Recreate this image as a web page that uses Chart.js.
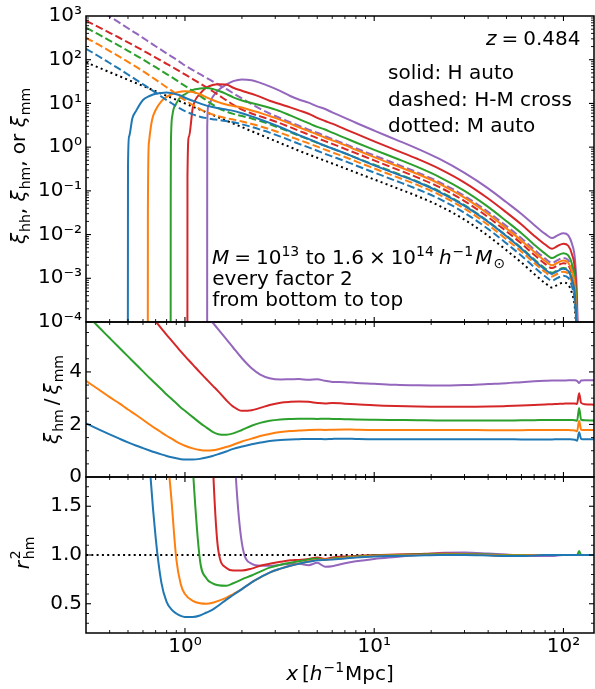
<!DOCTYPE html>
<html>
<head>
<meta charset="utf-8">
<script src="https://cdn.jsdelivr.net/npm/chart.js@4.4.1/dist/chart.umd.min.js"></script>
<style>
  html, body { margin: 0; padding: 0; background: #ffffff; }
  #wrap { position: relative; width: 595px; height: 689px; overflow: hidden; background: #ffffff; }
  #wrap canvas { position: absolute; left: 0; top: 0; }
</style>
</head>
<body>
<div id="wrap">
  <canvas id="cTop" width="595" height="689"></canvas>
  <canvas id="cMid" width="595" height="689"></canvas>
  <canvas id="cBot" width="595" height="689"></canvas>
</div>
<script>
// ---------------- data ----------------
const xGrid = [
  0.3, 0.35, 0.4, 0.45, 0.5, 0.55, 0.6, 0.65,
  0.7, 0.75, 0.8, 0.85, 0.9, 0.95, 1.0, 1.1,
  1.2, 1.3, 1.4, 1.5, 1.65, 1.8, 2.0, 2.25,
  2.5, 2.8, 3.2, 3.6, 4, 4.5, 5, 5.5,
  6, 7, 8, 10, 13, 17, 22, 30,
  40, 50, 60, 70, 80, 87, 93, 100,
  106, 111, 115, 118, 121, 124, 130, 145
];

// matter auto-correlation (dotted)
const xiMM = [
  87.1, 66.1, 51.9, 42.1, 34.8, 29.3, 25.1, 21.7,
  19.0, 16.8, 14.9, 13.4, 12.1, 11.0, 10.0, 8.43,
  7.21, 6.24, 5.46, 4.82, 4.06, 3.48, 2.87, 2.32,
  1.92, 1.57, 1.23, 1.00, 0.826, 0.681, 0.571, 0.489,
  0.423, 0.328, 0.263, 0.182, 0.118, 0.0752, 0.0459, 0.0219,
  0.00933, 0.00437, 0.00229, 0.00126, 0.000776, 0.000617, 0.000708, 0.000794,
  0.000708, 0.000447, 0.000200, 0.0000251, 0.000001, null, null, null
];

// halo-matter cross (dashed), mass bins 1..5
const xiHM1 = [
  178, 120, 84.1, 61.4, 45.9, 35.2, 27.5, 21.9,
  17.7, 14.4, 11.9, 10.1, 8.59, 7.46, 6.65, 5.61,
  4.98, 4.61, 4.37, 4.20, 3.94, 3.72, 3.33, 2.90,
  2.52, 2.15, 1.74, 1.43, 1.19, 0.986, 0.828, 0.703,
  0.612, 0.479, 0.381, 0.262, 0.170, 0.108, 0.0661, 0.0315,
  0.0134, 0.00628, 0.00327, 0.00180, 0.00111, 0.000881, 0.00102, 0.00114,
  0.00102, 0.000638, 0.000283, 0.0000347, 0.000001, null, null, null
];
const xiHM2 = [
  318, 220, 158, 118, 89.3, 69.5, 54.6, 43.4,
  35.0, 28.5, 23.4, 19.6, 16.3, 13.8, 11.9, 9.18,
  7.43, 6.30, 5.57, 5.11, 4.63, 4.28, 3.87, 3.39,
  3.00, 2.57, 2.11, 1.75, 1.46, 1.22, 1.03, 0.875,
  0.760, 0.594, 0.473, 0.326, 0.211, 0.135, 0.0822, 0.0392,
  0.0166, 0.00776, 0.00407, 0.00225, 0.00139, 0.00110, 0.00127, 0.00142,
  0.00127, 0.000794, 0.000353, 0.0000437, 0.000001, null, null, null
];
const xiHM3 = [
  540, 378, 274, 207, 160, 126, 101, 81.7,
  67.5, 56.1, 46.9, 39.9, 34.0, 29.0, 25.2, 19.2,
  14.9, 11.7, 9.40, 7.85, 6.55, 5.77, 5.14, 4.53,
  3.96, 3.35, 2.70, 2.21, 1.83, 1.51, 1.26, 1.08,
  0.933, 0.721, 0.575, 0.396, 0.256, 0.162, 0.0986, 0.0470,
  0.0200, 0.00938, 0.00494, 0.00272, 0.00168, 0.00134, 0.00153, 0.00172,
  0.00153, 0.000968, 0.000431, 0.0000537, 0.000001, null, null, null
];
const xiHM4 = [
  783, 558, 413, 318, 249, 200, 163, 134,
  112, 95.1, 80.7, 69.7, 60.3, 52.4, 46.0, 36.1,
  28.7, 23.2, 19.0, 15.7, 11.9, 9.31, 7.23, 5.90,
  5.06, 4.30, 3.49, 2.86, 2.37, 1.95, 1.61, 1.37,
  1.19, 0.916, 0.728, 0.497, 0.318, 0.201, 0.123, 0.0585,
  0.0250, 0.0118, 0.00624, 0.00345, 0.00214, 0.00171, 0.00197, 0.00222,
  0.00198, 0.00125, 0.000558, 0.0000698, 0.000001, null, null, null
];
const xiHM5 = [
  2130, 1410, 975, 706, 525, 405, 316, 251,
  203, 168, 139, 118, 101, 86.1, 74.1, 58.1,
  46.6, 38.5, 32.1, 27.1, 21.4, 17.1, 13.0, 9.62,
  7.50, 5.89, 4.57, 3.72, 3.08, 2.52, 2.13, 1.79,
  1.53, 1.19, 0.942, 0.646, 0.414, 0.262, 0.160, 0.0766,
  0.0330, 0.0156, 0.00828, 0.00458, 0.00284, 0.00226, 0.00260, 0.00292,
  0.00261, 0.00164, 0.000735, 0.0000918, 0.000001, null, null, null
];

// halo auto-correlation (solid): own x samples (vertical drop where xi_hh < 0)
const hhX1 = [0.499, 0.5, 0.507, 0.527, 0.55, 0.6, 0.65, 0.7, 0.75, 0.8, 0.85, 0.9, 0.95, 1.0, 1.1, 1.2, 1.3, 1.4, 1.5, 1.65, 1.8, 2.0, 2.25, 2.5, 2.8, 3.2, 3.6, 4, 4.5, 5, 5.5, 6, 7, 8, 10, 13, 17, 22, 30, 40, 50, 60, 70, 80, 87, 93, 100, 106, 111, 115, 118, 121];
const hhY1 = [0.000001, 0.339, 1.76, 4.54, 6.61, 12.0, 14.8, 16.6, 17.4, 17.8, 17.2, 16.2, 15.1, 13.5, 11.5, 10.0, 8.91, 8.32, 7.76, 7.24, 6.75, 5.94, 5.05, 4.30, 3.58, 2.85, 2.30, 1.88, 1.54, 1.27, 1.07, 0.931, 0.724, 0.568, 0.384, 0.247, 0.157, 0.0953, 0.0454, 0.0195, 0.00914, 0.00473, 0.00258, 0.00159, 0.00126, 0.00147, 0.00165, 0.00147, 0.000914, 0.000403, 0.0000513, 0.000001];
const hhX2 = [0.636, 0.637, 0.645, 0.67, 0.7, 0.75, 0.8, 0.85, 0.9, 0.95, 1.0, 1.1, 1.2, 1.3, 1.4, 1.5, 1.65, 1.8, 2.0, 2.25, 2.5, 2.8, 3.2, 3.6, 4, 4.5, 5, 5.5, 6, 7, 8, 10, 13, 17, 22, 30, 40, 50, 60, 70, 80, 87, 93, 100, 106, 111, 115, 118, 121];
const hhY2 = [0.000001, 0.0331, 1.26, 4.17, 7.08, 11.2, 14.1, 16.2, 17.8, 18.6, 19.1, 18.2, 16.2, 13.8, 12.0, 10.7, 9.44, 8.77, 8.05, 6.89, 6.08, 5.14, 4.20, 3.44, 2.84, 2.33, 1.95, 1.64, 1.43, 1.11, 0.871, 0.589, 0.380, 0.241, 0.147, 0.0701, 0.0296, 0.0138, 0.00726, 0.00404, 0.00249, 0.00198, 0.00227, 0.00255, 0.00227, 0.00142, 0.000625, 0.0000794, 0.000001];
const hhX3 = [0.84, 0.841, 0.845, 0.86, 0.9, 0.95, 1.0, 1.1, 1.2, 1.3, 1.4, 1.5, 1.65, 1.8, 2.0, 2.25, 2.5, 2.8, 3.2, 3.6, 4, 4.5, 5, 5.5, 6, 7, 8, 10, 13, 17, 22, 30, 40, 50, 60, 70, 80, 87, 93, 100, 106, 111, 115, 118, 121];
const hhY3 = [0.000001, 0.055, 2.0, 5.62, 10.0, 14.1, 16.2, 20.4, 21.9, 22.4, 21.4, 19.5, 16.6, 13.8, 11.7, 10.2, 9.12, 7.94, 6.58, 5.31, 4.36, 3.53, 2.91, 2.54, 2.14, 1.63, 1.28, 0.869, 0.556, 0.349, 0.210, 0.100, 0.0430, 0.0202, 0.0107, 0.00587, 0.00366, 0.00290, 0.00333, 0.00374, 0.00333, 0.00210, 0.000931, 0.000117, 0.000001];
const hhX4 = [1.03, 1.031, 1.05, 1.1, 1.2, 1.3, 1.4, 1.5, 1.65, 1.8, 2.0, 2.25, 2.5, 2.8, 3.2, 3.6, 4, 4.5, 5, 5.5, 6, 7, 8, 10, 13, 17, 22, 30, 40, 50, 60, 70, 80, 87, 93, 100, 106, 111, 115, 118, 121];
const hhY4 = [0.000001, 0.219, 1.76, 7.94, 16.6, 22.9, 26.3, 27.5, 27.2, 22.9, 19.5, 16.6, 14.1, 11.5, 9.55, 8.13, 6.92, 5.81, 4.67, 3.97, 3.44, 2.59, 2.04, 1.36, 0.857, 0.535, 0.323, 0.155, 0.0670, 0.0320, 0.0170, 0.00944, 0.00592, 0.00473, 0.00547, 0.00618, 0.00555, 0.00350, 0.00156, 0.000195, 0.000001];
const hhX5 = [1.31, 1.311, 1.33, 1.4, 1.5, 1.65, 1.8, 2.0, 2.25, 2.5, 2.8, 3.2, 3.6, 4, 4.5, 5, 5.5, 6, 7, 8, 10, 13, 17, 22, 30, 40, 50, 60, 70, 80, 87, 93, 100, 106, 111, 115, 118, 121];
const hhY5 = [0.000001, 2.82, 8.91, 14.0, 20.0, 26.9, 32.4, 35.5, 33.9, 29.5, 24.5, 19.1, 14.8, 12.3, 10.4, 8.59, 7.45, 6.25, 4.68, 3.61, 2.39, 1.49, 0.916, 0.544, 0.258, 0.114, 0.0547, 0.0295, 0.0166, 0.0104, 0.00834, 0.00957, 0.0107, 0.00959, 0.00605, 0.00270, 0.000339, 0.000001];

// xi_hm / xi_mm (middle panel)
const ratio1 = [
  2.04, 1.81, 1.62, 1.46, 1.32, 1.20, 1.10, 1.01,
  0.93, 0.86, 0.80, 0.75, 0.71, 0.68, 0.665, 0.665,
  0.69, 0.74, 0.80, 0.87, 0.97, 1.07, 1.16, 1.25,
  1.31, 1.37, 1.41, 1.43, 1.44, 1.45, 1.45, 1.44,
  1.45, 1.46, 1.45, 1.44, 1.44, 1.44, 1.44, 1.44,
  1.44, 1.44, 1.43, 1.43, 1.43, 1.43, 1.44, 1.44,
  1.44, 1.43, 1.42, 1.38, 1.70, 1.45, 1.44, 1.44
];
const ratio2 = [
  3.66, 3.33, 3.04, 2.80, 2.57, 2.37, 2.18, 2.00,
  1.84, 1.70, 1.57, 1.46, 1.35, 1.26, 1.19, 1.09,
  1.03, 1.01, 1.02, 1.06, 1.14, 1.23, 1.35, 1.46,
  1.56, 1.64, 1.71, 1.75, 1.77, 1.79, 1.80, 1.79,
  1.80, 1.81, 1.80, 1.79, 1.79, 1.79, 1.79, 1.79,
  1.78, 1.78, 1.78, 1.79, 1.79, 1.79, 1.79, 1.79,
  1.79, 1.78, 1.77, 1.74, 2.14, 1.80, 1.79, 1.79
];
const ratio3 = [
  6.20, 5.71, 5.29, 4.92, 4.59, 4.29, 4.02, 3.77,
  3.55, 3.34, 3.14, 2.97, 2.81, 2.65, 2.52, 2.28,
  2.06, 1.88, 1.72, 1.63, 1.61, 1.66, 1.79, 1.95,
  2.06, 2.14, 2.19, 2.21, 2.22, 2.22, 2.21, 2.22,
  2.21, 2.20, 2.19, 2.18, 2.17, 2.16, 2.15, 2.15,
  2.15, 2.15, 2.16, 2.16, 2.17, 2.17, 2.17, 2.17,
  2.17, 2.17, 2.16, 2.14, 2.63, 2.18, 2.16, 2.15
];
const ratio4 = [
  9.0, 8.45, 7.97, 7.55, 7.17, 6.82, 6.50, 6.20,
  5.92, 5.66, 5.41, 5.19, 4.98, 4.78, 4.60, 4.28,
  3.98, 3.72, 3.48, 3.26, 2.93, 2.68, 2.52, 2.54,
  2.63, 2.74, 2.83, 2.86, 2.87, 2.86, 2.82, 2.80,
  2.82, 2.79, 2.77, 2.73, 2.70, 2.68, 2.67, 2.67,
  2.68, 2.70, 2.72, 2.74, 2.76, 2.77, 2.78, 2.79,
  2.80, 2.80, 2.80, 2.78, 3.19, 2.82, 2.77, 2.75
];
const ratio5 = [
  24.5, 21.4, 18.8, 16.8, 15.1, 13.8, 12.6, 11.6,
  10.7, 10.0, 9.33, 8.81, 8.32, 7.85, 7.41, 6.88,
  6.45, 6.16, 5.88, 5.62, 5.26, 4.92, 4.52, 4.14,
  3.90, 3.76, 3.71, 3.72, 3.73, 3.70, 3.72, 3.66,
  3.62, 3.61, 3.58, 3.55, 3.51, 3.49, 3.48, 3.50,
  3.54, 3.57, 3.61, 3.64, 3.66, 3.67, 3.67, 3.67,
  3.68, 3.68, 3.68, 3.66, 3.58, 3.67, 3.68, 3.68
];

// r^2_hm (bottom panel)
const r2_1 = [
  null, null, null, null, null, null, 3.2, 1.95,
  1.18, 0.72, 0.52, 0.44, 0.40, 0.375, 0.365, 0.365,
  0.38, 0.41, 0.44, 0.48, 0.54, 0.59, 0.65, 0.72,
  0.77, 0.82, 0.86, 0.89, 0.91, 0.93, 0.945, 0.95,
  0.955, 0.965, 0.975, 0.985, 0.99, 0.995, 1.0, 1.0,
  0.995, 0.99, 0.99, 0.995, 1.0, 1.0, 1.0, 1.0,
  1.0, 1.0, 1.0, 1.0, 1.0, 1.0, 1.0, 1.0
];
const r2_2 = [
  null, null, null, null, null, null, null, null,
  null, 3.5, 2.2, 1.55, 0.96, 0.70, 0.60, 0.53,
  0.505, 0.50, 0.51, 0.53, 0.56, 0.60, 0.65, 0.72,
  0.77, 0.82, 0.86, 0.89, 0.91, 0.935, 0.95, 0.955,
  0.96, 0.97, 0.98, 0.99, 0.995, 1.0, 1.005, 1.005,
  1.0, 0.995, 0.995, 1.0, 1.0, 1.0, 1.0, 1.0,
  1.0, 1.0, 1.0, 1.0, 1.0, 1.0, 1.0, 1.0
];
const r2_3 = [
  null, null, null, null, null, null, null, null,
  null, null, null, null, null, null, 3.5, 1.9,
  0.95, 0.76, 0.71, 0.69, 0.685, 0.71, 0.75, 0.79,
  0.83, 0.87, 0.90, 0.92, 0.935, 0.955, 0.965, 0.95,
  0.965, 0.975, 0.985, 0.995, 1.0, 1.005, 1.01, 1.01,
  1.005, 1.0, 1.0, 1.0, 1.0, 1.0, 1.0, 1.0,
  1.0, 1.0, 1.0, 1.0, 1.04, 1.0, 1.0, 1.0
];
const r2_4 = [
  null, null, null, null, null, null, null, null,
  null, null, null, null, null, null, null, null,
  null, 4.0, 2.0, 1.05, 0.87, 0.84, 0.84, 0.86,
  0.89, 0.91, 0.93, 0.945, 0.95, 0.96, 0.975, 0.96,
  0.975, 0.985, 0.99, 1.0, 1.005, 1.01, 1.015, 1.01,
  1.0, 0.995, 0.995, 1.0, 1.0, 1.0, 1.0, 1.0,
  1.0, 1.0, 1.0, 1.0, 1.0, 1.0, 1.0, 1.0
];
const r2_5 = [
  null, null, null, null, null, null, null, null,
  null, null, null, null, null, null, null, null,
  null, null, null, null, 4.5, 2.3, 1.12, 0.91,
  0.89, 0.89, 0.90, 0.91, 0.91, 0.895, 0.92, 0.88,
  0.885, 0.915, 0.935, 0.96, 0.98, 1.0, 1.02, 1.025,
  1.015, 1.005, 0.995, 0.99, 0.99, 0.99, 0.995, 1.0,
  1.0, 1.0, 1.0, 1.0, 1.0, 1.0, 1.0, 1.0
];
const refX = [0.3, 145];
const refY = [1, 1];

// ticks / labels
const xTickVals = [1, 10, 100];
const xTickLabels = ['10\u2070', '10\u00b9', '10\u00b2'];
const xMinorTicks = [0.3, 0.4, 0.5, 0.6, 0.7, 0.8, 0.9, 2, 3, 4, 5, 6, 7, 8, 9, 20, 30, 40, 50, 60, 70, 80, 90];
const yTopTickVals = [1e-4, 1e-3, 1e-2, 1e-1, 1, 10, 100, 1000];
const yTopTickLabels = ['10\u207b\u2074', '10\u207b\u00b3', '10\u207b\u00b2', '10\u207b\u00b9', '10\u2070', '10\u00b9', '10\u00b2', '10\u00b3'];
const yMidTickVals = [0, 2, 4];
const yMidTickLabels = ['0', '2', '4'];
const yMidMinor = [0.5, 1, 1.5, 2.5, 3, 3.5, 4.5, 5, 5.5];
const yBotTickVals = [0.5, 1.0, 1.5];
const yBotTickLabels = ['0.5', '1.0', '1.5'];
const yBotMinor = [0.3, 0.4, 0.6, 0.7, 0.8, 0.9, 1.1, 1.2, 1.3, 1.4, 1.6, 1.7];
const yTopMinor = [];
for (let e = -4; e < 3; e++) for (let m = 2; m <= 9; m++) yTopMinor.push(m * Math.pow(10, e));

const COLORS = ['#1f77b4', '#ff7f0e', '#2ca02c', '#d62728', '#9467bd'];

// ---------------- helpers ----------------
const FAM = '"DejaVu Sans"';
const F = '20px ' + FAM, FI = 'italic 20px ' + FAM, FS = '14px ' + FAM;
Chart.defaults.font.family = FAM + ', sans-serif';
Chart.defaults.color = '#000';

const pts = (xs, ys) => xs.map((x, i) => ({ x: x, y: ys[i] }));

function drawRuns(ctx, runs, x, y, align) {
  let total = 0;
  runs.forEach(r => { ctx.font = r.f; r.w = ctx.measureText(r.t).width; total += (r.g || 0) + r.w; });
  let cx = align === 'center' ? x - total / 2 : (align === 'right' ? x - total : x);
  ctx.textAlign = 'left'; ctx.textBaseline = 'alphabetic'; ctx.fillStyle = '#000';
  runs.forEach(r => { cx += (r.g || 0); ctx.font = r.f; ctx.fillText(r.t, cx, y + (r.dy || 0)); cx += r.w; });
}
function drawRotated(ctx, runs, bx, cy) {
  ctx.save(); ctx.translate(bx, cy); ctx.rotate(-Math.PI / 2);
  drawRuns(ctx, runs, 0, 0, 'center');
  ctx.restore();
}

function deco(name, yMajor, yMinor, textFn) {
  return {
    id: 'deco' + name,
    afterDatasetsDraw(chart) {
      const ctx = chart.ctx, a = chart.chartArea, xs = chart.scales.x, ys = chart.scales.y;
      ctx.save();
      ctx.strokeStyle = '#000';
      const seg = (x1, y1, x2, y2) => { ctx.beginPath(); ctx.moveTo(x1, y1); ctx.lineTo(x2, y2); ctx.stroke(); };
      const doX = (vals, len, w) => {
        ctx.lineWidth = w;
        vals.forEach(v => { const p = xs.getPixelForValue(v); if (p < a.left + 1 || p > a.right - 1) return; seg(p, a.bottom, p, a.bottom - len); seg(p, a.top, p, a.top + len); });
      };
      const doY = (vals, len, w) => {
        ctx.lineWidth = w;
        vals.forEach(v => { const p = ys.getPixelForValue(v); if (p < a.top + 1 || p > a.bottom - 1) return; seg(a.left, p, a.left + len, p); seg(a.right, p, a.right - len, p); });
      };
      doX(xMinorTicks, 3, 0.9); doX(xTickVals, 5, 1.1);
      doY(yMinor, 3, 0.9); doY(yMajor, 5, 1.1);
      ctx.lineWidth = 1.5;
      ctx.strokeRect(a.left, a.top, a.right - a.left, a.bottom - a.top);
      ctx.restore();
    },
    afterDraw(chart) { if (textFn) textFn(chart.ctx); }
  };
}

function yAxis(type, min, max, vals, labels) {
  return {
    type: type, min: min, max: max, position: 'left',
    grid: { display: false, drawTicks: false }, border: { display: false },
    afterFit: s => { s.width = 86; },
    afterBuildTicks: s => { s.ticks = vals.map(v => ({ value: v })); },
    ticks: { autoSkip: false, padding: 4, font: { size: 20 }, color: '#000', callback: (v, i) => labels[i] }
  };
}

function options(pad, yScale, showX) {
  return {
    responsive: false, animation: false, devicePixelRatio: 1, events: [],
    layout: { padding: pad, autoPadding: false },
    plugins: { legend: { display: false }, tooltip: { enabled: false } },
    elements: {
      point: { radius: 0, hoverRadius: 0 },
      line: { borderWidth: 2, cubicInterpolationMode: 'monotone', borderJoinStyle: 'round', fill: false }
    },
    scales: {
      x: {
        type: 'logarithmic', min: 0.3, max: 145, display: showX,
        grid: { display: false, drawTicks: false }, border: { display: false },
        afterFit: s => { s.height = showX ? 56 : 0; },
        afterBuildTicks: s => { s.ticks = xTickVals.map(v => ({ value: v })); },
        ticks: { autoSkip: false, maxRotation: 0, minRotation: 0, padding: 2, font: { size: 20 }, color: '#000',
                 callback: (v, i) => xTickLabels[i] }
      },
      y: yScale
    }
  };
}

const line = (data, color, dash) => ({ data: data, borderColor: color, backgroundColor: color, borderWidth: 2, borderDash: dash || [], spanGaps: true, pointRadius: 0 });
const DASH = [7.7, 3.3], DOT = [2, 3.3];

// ---------------- top panel ----------------
const hhX = [hhX1, hhX2, hhX3, hhX4, hhX5], hhY = [hhY1, hhY2, hhY3, hhY4, hhY5];
const hm = [xiHM1, xiHM2, xiHM3, xiHM4, xiHM5];
const topSets = [];
for (let k = 0; k < 5; k++) {
  topSets.push(line(pts(hhX[k], hhY[k]), COLORS[k]));
  topSets.push(line(pts(xGrid, hm[k]), COLORS[k], DASH));
}
topSets.push(line(pts(xGrid, xiMM), '#000', DOT));

new Chart(document.getElementById('cTop'), {
  type: 'line',
  data: { datasets: topSets },
  options: options({ left: 0, right: 1, top: 12, bottom: 367 },
    yAxis('logarithmic', 1e-4, 1e3, yTopTickVals, yTopTickLabels), false),
  plugins: [deco('Top', yTopTickVals, yTopMinor, ctx => {
    drawRuns(ctx, [{ t: 'z', f: FI }, { t: '=', f: F, g: 5 }, { t: '0.484', f: F, g: 5 }], 580.5, 45, 'right');
    drawRuns(ctx, [{ t: 'solid: H auto', f: F }], 388, 79, 'left');
    drawRuns(ctx, [{ t: 'dashed: H-M cross', f: F }], 388, 105.7, 'left');
    drawRuns(ctx, [{ t: 'dotted: M auto', f: F }], 388, 132.3, 'left');
    drawRuns(ctx, [
      { t: 'M', f: FI }, { t: '=', f: F, g: 5 }, { t: '10', f: F, g: 5 }, { t: '13', f: FS, dy: -8 },
      { t: ' to ', f: F }, { t: '1.6', f: F }, { t: '\u00d7', f: F, g: 5 }, { t: '10', f: F, g: 5 },
      { t: '14', f: FS, dy: -8 }, { t: 'h', f: FI, g: 5 }, { t: '\u22121', f: FS, dy: -8, g: 1 },
      { t: 'M', f: FI, g: 2 }, { t: '\u2299', f: FS, dy: 4, g: 1 }
    ], 212, 264.3, 'left');
    drawRuns(ctx, [{ t: 'every factor 2', f: F }], 212.3, 285.3, 'left');
    drawRuns(ctx, [{ t: 'from bottom to top', f: F }], 212.3, 306.3, 'left');
    drawRotated(ctx, [
      { t: '\u03be', f: FI }, { t: 'hh', f: FS, dy: 5, g: 1 }, { t: ', ', f: F },
      { t: '\u03be', f: FI }, { t: 'hm', f: FS, dy: 5, g: 1 }, { t: ', or ', f: F },
      { t: '\u03be', f: FI }, { t: 'mm', f: FS, dy: 5, g: 1 }
    ], 25, 166);
  })]
});

// ---------------- middle panel ----------------
const ratios = [ratio1, ratio2, ratio3, ratio4, ratio5];
new Chart(document.getElementById('cMid'), {
  type: 'line',
  data: { datasets: ratios.map((r, k) => line(pts(xGrid, r), COLORS[k])) },
  options: options({ left: 0, right: 1, top: 322, bottom: 212 },
    yAxis('linear', 0, 5.9, yMidTickVals, yMidTickLabels), false),
  plugins: [deco('Mid', yMidTickVals, yMidMinor, ctx => {
    drawRotated(ctx, [
      { t: '\u03be', f: FI }, { t: 'hm', f: FS, dy: 5, g: 1 }, { t: '/', f: F, g: 4 },
      { t: '\u03be', f: FI, g: 4 }, { t: 'mm', f: FS, dy: 5, g: 1 }
    ], 58, 399.5);
  })]
});

// ---------------- bottom panel ----------------
const r2s = [r2_1, r2_2, r2_3, r2_4, r2_5];
const botSets = r2s.map((r, k) => line(pts(xGrid, r), COLORS[k]));
botSets.push(line(pts(refX, refY), '#000', DOT));
new Chart(document.getElementById('cBot'), {
  type: 'line',
  data: { datasets: botSets },
  options: options({ left: 0, right: 1, top: 477, bottom: 0 },
    yAxis('linear', 0.2, 1.8, yBotTickVals, yBotTickLabels), true),
  plugins: [deco('Bot', yBotTickVals, yBotMinor, ctx => {
    // r^2_hm
    ctx.save(); ctx.translate(29, 553); ctx.rotate(-Math.PI / 2);
    ctx.fillStyle = '#000'; ctx.textBaseline = 'alphabetic'; ctx.textAlign = 'left';
    ctx.font = FI; const wr = ctx.measureText('r').width;
    ctx.font = FS; const ws = ctx.measureText('hm').width;
    let cx = -(wr + 2 + ws) / 2;
    ctx.font = FI; ctx.fillText('r', cx, 0); cx += wr + 2;
    ctx.font = FS; ctx.fillText('2', cx, -9); ctx.fillText('hm', cx, 5);
    ctx.restore();
    // x label
    drawRuns(ctx, [
      { t: 'x', f: FI }, { t: '[', f: F, g: 4 }, { t: 'h', f: FI }, { t: '\u22121', f: FS, dy: -8, g: 1 },
      { t: 'Mpc]', f: F, g: 1 }
    ], 340, 680, 'center');
  })]
});
</script>
</body>
</html>
